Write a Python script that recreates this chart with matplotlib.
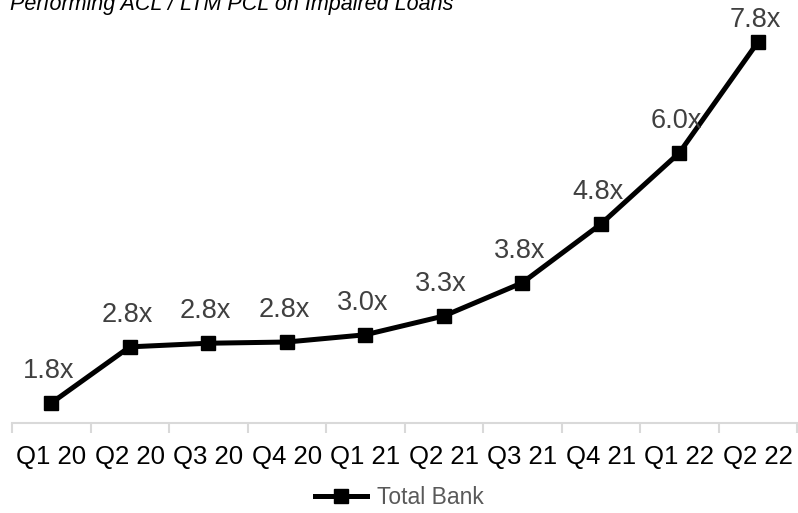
import matplotlib
matplotlib.use("Agg")
import matplotlib.pyplot as plt
import numpy as np

quarters = ["Q1 20", "Q2 20", "Q3 20", "Q4 20", "Q1 21",
            "Q2 21", "Q3 21", "Q4 21", "Q1 22", "Q2 22"]
coverage = [1.83, 2.76, 2.82, 2.84, 2.96, 3.27, 3.82, 4.79, 5.97, 7.80]

plt.rcParams['font.family'] = ['Liberation Sans', 'DejaVu Sans']

W, H = 798, 513
fig = plt.figure(figsize=(W / 100, H / 100), dpi=100)
ax = fig.add_axes([12 / W, (H - 423) / H, (797 - 12) / W, 423 / H])

x = np.arange(len(quarters))
ax.plot(x, coverage, color='black', linewidth=3.6, marker='s',
        markersize=10.5, label='Total Bank', clip_on=False, zorder=3)

# data labels above each point; the top one is pulled down to stay inside
for i, (xi, v) in enumerate(zip(x, coverage)):
    dy = 11 if i == len(x) - 1 else 18
    ax.annotate(f"{v:.1f}x", (xi, v), xytext=(-2, dy), textcoords='offset points',
                ha='center', va='baseline', fontsize=19.5, color='#404040')

ax.set_xlim(-0.5, len(quarters) - 0.5)
ax.set_ylim(1.5, 8.5)
ax.set_yticks([])
ax.set_xticks(x)
ax.set_xticklabels(quarters, fontsize=18.5, color='black')
ax.set_xticks(np.arange(len(quarters) + 1) - 0.5, minor=True)
ax.tick_params(axis='x', which='major', length=0, pad=16)
ax.tick_params(axis='x', which='minor', length=7, width=1.5, color='#d9d9d9')

for side in ['top', 'left', 'right']:
    ax.spines[side].set_visible(False)
ax.spines['bottom'].set_color('#d9d9d9')
ax.spines['bottom'].set_linewidth(1.5)

fig.text(10 / W, 1 - 10 / H, "Performing ACL / LTM PCL on Impaired Loans",
         fontsize=15.5, style='italic', ha='left', va='baseline', color='black')

leg = fig.legend(loc='center', bbox_to_anchor=(0.5, 1 - 498 / H), frameon=False,
                 fontsize=16.5, handlelength=2.3, handletextpad=0.4, markerscale=1.0)
for t in leg.get_texts():
    t.set_color('#595959')

fig.savefig("out.png", dpi=100)
